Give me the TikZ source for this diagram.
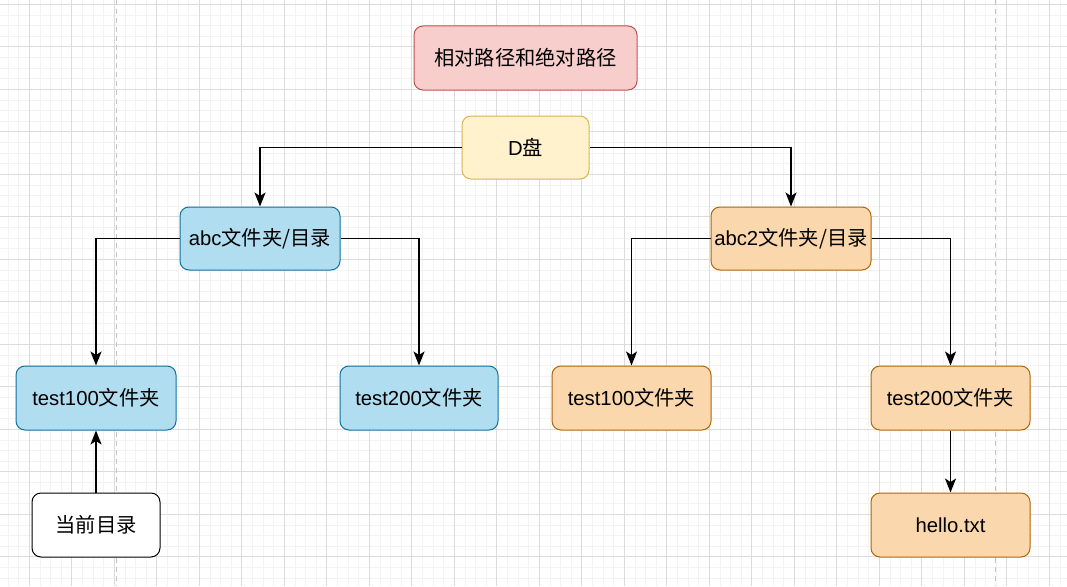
\documentclass[tikz,border=0pt]{standalone}
\usepackage{fontspec}
\setmainfont{Liberation Sans}
\newfontfamily\cjk{Noto Sans CJK SC}
\usetikzlibrary{arrows.meta}
\definecolor{gridmajor}{HTML}{DCDCDC}
\definecolor{gridminor}{HTML}{F3F3F3}
\definecolor{guide}{HTML}{C4C4C4}
\definecolor{redfill}{HTML}{F8CECC}\definecolor{redline}{HTML}{B85450}
\definecolor{yelfill}{HTML}{FFF2CC}\definecolor{yelline}{HTML}{D6B656}
\definecolor{bluefill}{HTML}{B1DDF0}\definecolor{blueline}{HTML}{10739E}
\definecolor{orfill}{HTML}{FAD7AC}\definecolor{orline}{HTML}{B46504}
\begin{document}
\begin{tikzpicture}[x=1pt,y=-1pt,
  box/.style={draw, rounded corners=9pt, line width=1pt, inner sep=0pt,
    font=\fontsize{20.3}{24}\selectfont, text=black},
  redbox/.style={box, fill=redfill, draw=redline},
  yelbox/.style={box, fill=yelfill, draw=yelline},
  bluebox/.style={box, fill=bluefill, draw=blueline},
  orbox/.style={box, fill=orfill, draw=orline},
  plainbox/.style={box, fill=white, draw=black},
  arr/.style={line width=1.4pt, -{Stealth[length=14pt,width=11pt,inset=3.5pt]}}]
\useasboundingbox (0,0) rectangle (1067,586);
\fill[white] (0,0) rectangle (1067,586);
% minor grid
\foreach \i in {0,...,100} {
  \draw[gridminor, line width=0.8pt] ({8.05+10.625*\i},0) -- ({8.05+10.625*\i},586);
}
\foreach \j in {0,...,55} {
  \draw[gridminor, line width=0.8pt] (0,{4.3+10.625*\j}) -- (1067,{4.3+10.625*\j});
}
% major grid
\foreach \i in {0,...,25} {
  \draw[gridmajor, line width=0.8pt] ({29.3+42.5*\i},0) -- ({29.3+42.5*\i},586);
}
\foreach \j in {0,...,14} {
  \draw[gridmajor, line width=0.8pt] (0,{4.3+42.5*\j}) -- (1067,{4.3+42.5*\j});
}
% guides
\draw[guide, line width=1pt, dash pattern=on 5pt off 4pt] (116.7,0) -- (116.7,586);
\draw[guide, line width=1pt, dash pattern=on 5pt off 4pt] (995,0) -- (995,586);

% nodes
\node[redbox, minimum width=223pt, minimum height=64pt] (title) at (525.5,58) {\cjk 相对路径和绝对路径};
\node[yelbox, minimum width=127pt, minimum height=63pt] (d) at (525.5,147.5) {D\cjk 盘};
\node[bluebox, minimum width=160pt, minimum height=63pt] (abc) at (260,238.5) {abc\cjk 文件夹/目录};
\node[orbox, minimum width=160pt, minimum height=63pt] (abctwo) at (791,238.5) {abc2\cjk 文件夹/目录};
\node[bluebox, minimum width=160pt, minimum height=64pt] (tla) at (96,398) {test100\cjk 文件夹};
\node[bluebox, minimum width=158pt, minimum height=64pt] (tlb) at (419,398) {test200\cjk 文件夹};
\node[orbox, minimum width=159pt, minimum height=64pt] (tra) at (631.5,398) {test100\cjk 文件夹};
\node[orbox, minimum width=159pt, minimum height=64pt] (trb) at (950.5,398) {test200\cjk 文件夹};
\node[plainbox, minimum width=128pt, minimum height=64pt] (cur) at (96,525) {\cjk 当前目录};
\node[orbox, minimum width=159pt, minimum height=64pt] (hello) at (950.5,525) {hello.txt};

% connectors
\draw[arr] (d.west) -| (abc.north);
\draw[arr] (d.east) -| (abctwo.north);
\draw[arr] (abc.west) -| (tla.north);
\draw[arr] (abc.east) -| (tlb.north);
\draw[arr] (abctwo.west) -| (tra.north);
\draw[arr] (abctwo.east) -| (trb.north);
\draw[arr] (trb.south) -- (hello.north);
\draw[arr] (cur.north) -- (tla.south);
\end{tikzpicture}
\end{document}
